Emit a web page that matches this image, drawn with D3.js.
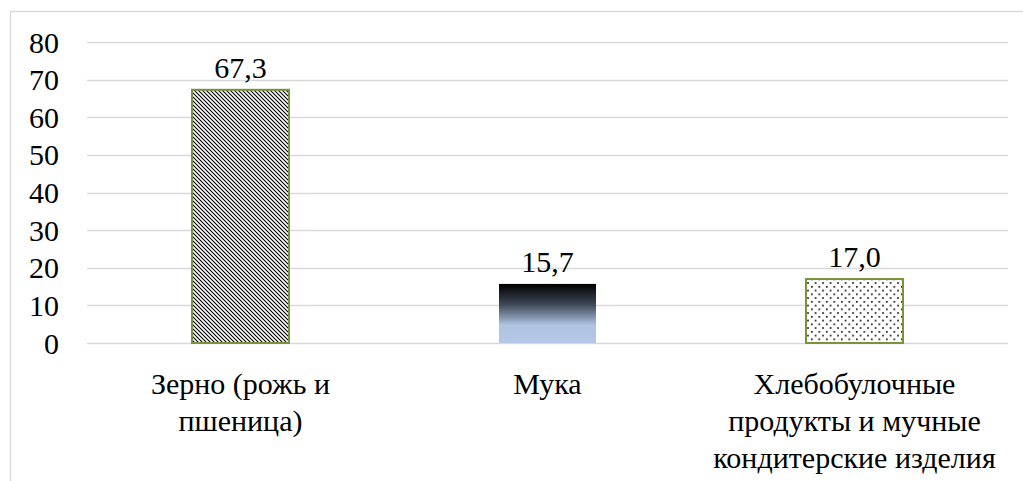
<!DOCTYPE html>
<html><head><meta charset="utf-8">
<script src="https://cdn.jsdelivr.net/npm/d3@7"></script>
</head><body style="margin:0">
<svg id="c" width="1023" height="481"></svg>
<script>
const categories = ["Зерно (рожь и пшеница)", "Мука", "Хлебобулочные продукты и мучные кондитерские изделия"];
const categoryLines = [["Зерно (рожь и", "пшеница)"], ["Мука"], ["Хлебобулочные", "продукты и мучные", "кондитерские изделия"]];
const values = [67.3, 15.7, 17.0];
const valueLabels = ["67,3", "15,7", "17,0"];
const yTicks = [0, 10, 20, 30, 40, 50, 60, 70, 80];

const svg = d3.select("#c");
const W = 1023, H = 481;
const FONT = "'Liberation Serif'";

svg.append("path").attr("d", `M10.5,${H} V11.5 H${W}`).attr("fill", "none").attr("stroke", "#d9d9d9").attr("stroke-width", 1.3);

const x = d3.scaleBand().domain(categories).range([87, 1008]).paddingInner(0).paddingOuter(0);
const y = d3.scaleLinear().domain([0, 80]).range([343, 42]);

const defs = svg.append("defs");
const p1 = defs.append("pattern").attr("id", "diag").attr("patternUnits", "userSpaceOnUse").attr("width", 4).attr("height", 4);
p1.append("rect").attr("width", 4).attr("height", 4).attr("fill", "#fff");
p1.append("path").attr("d", "M-1,-1 L5,5 M-1,3 L1,5 M3,-1 L5,1").attr("stroke", "#000").attr("stroke-width", 1.1);
const p3 = defs.append("pattern").attr("id", "dots").attr("patternUnits", "userSpaceOnUse").attr("width", 7.5).attr("height", 7.5);
p3.append("rect").attr("width", 7.5).attr("height", 7.5).attr("fill", "#fff");
p3.append("rect").attr("x", 1).attr("y", 1).attr("width", 1.6).attr("height", 1.6).attr("fill", "#000");
p3.append("rect").attr("x", 4.75).attr("y", 4.75).attr("width", 1.6).attr("height", 1.6).attr("fill", "#000");
const g2 = defs.append("linearGradient").attr("id", "grad").attr("x1", 0).attr("y1", 0).attr("x2", 0).attr("y2", 1);
g2.append("stop").attr("offset", "0").attr("stop-color", "#000");
g2.append("stop").attr("offset", "0.35").attr("stop-color", "#3e4856");
g2.append("stop").attr("offset", "0.7").attr("stop-color", "#b0c5e2");
g2.append("stop").attr("offset", "1").attr("stop-color", "#b4c7e7");

// gridlines
svg.selectAll("line.grid").data(yTicks).join("line").attr("class", "grid")
  .attr("x1", 87).attr("x2", 1008)
  .attr("y1", d => Math.round(y(d)) + 0.5).attr("y2", d => Math.round(y(d)) + 0.5)
  .attr("stroke", "#d9d9d9").attr("stroke-width", 1.5);

// y tick labels (from the scale, directly on svg root)
svg.selectAll("text.ytick").data(yTicks).join("text").attr("class", "ytick")
  .attr("x", 59).attr("y", d => y(d)).attr("dy", "0.35em")
  .attr("text-anchor", "end")
  .style("font-family", FONT).style("font-size", "30px").style("fill", "#000")
  .text(d => d3.format("d")(d));

const fills = ["url(#diag)", "url(#grad)", "url(#dots)"];
const strokes = ["#77933c", "none", "#77933c"];
const bw = x.bandwidth() * 0.316;

svg.selectAll("rect.bar").data(values).join("rect").attr("class", "bar")
  .attr("x", (d, i) => x(categories[i]) + x.bandwidth() / 2 - bw / 2)
  .attr("width", bw)
  .attr("y", d => y(d))
  .attr("height", d => y(0) - y(d))
  .attr("fill", (d, i) => fills[i])
  .attr("stroke", (d, i) => strokes[i])
  .attr("stroke-width", 2);

svg.selectAll("text.val").data(values).join("text").attr("class", "val")
  .attr("x", (d, i) => x(categories[i]) + x.bandwidth() / 2)
  .attr("y", d => y(d) - 12)
  .attr("text-anchor", "middle")
  .style("font-family", FONT).style("font-size", "30px")
  .text((d, i) => valueLabels[i]);

// category labels, one text per line
const catRows = [];
categoryLines.forEach((lines, i) => lines.forEach((ln, j) => catRows.push({ i, j, ln })));
svg.selectAll("text.cat").data(catRows).join("text").attr("class", "cat")
  .attr("x", d => x(categories[d.i]) + x.bandwidth() / 2)
  .attr("y", d => 394 + d.j * 37)
  .attr("text-anchor", "middle")
  .style("font-family", FONT).style("font-size", "30px")
  .text(d => d.ln);
</script></body></html>
